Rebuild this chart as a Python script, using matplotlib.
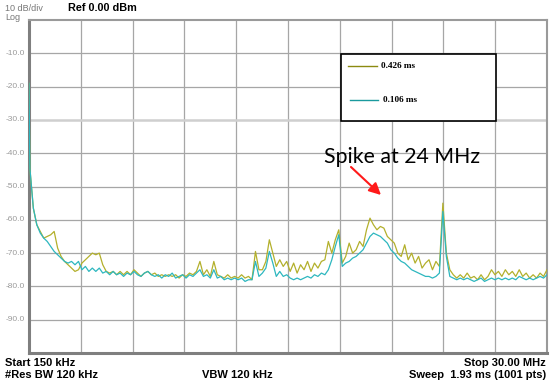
import numpy as np
import matplotlib
matplotlib.use("Agg")
import matplotlib.pyplot as plt
from matplotlib.lines import Line2D

# ---------------- data ----------------
start_mhz = 0.15
stop_mhz = 30.0
start_level = -19.0          # first sweep point (both traces)
step_mhz = 0.2               # spacing of the read-off points after the start point

trace_0426_ms = [
    -44.5, -56.5, -61.5, -63.5, -65.5, -65.0, -64.5, -63.5, -68.5, -71.0,
    -72.5, -73.5, -74.5, -75.5, -75.0, -73.0, -72.0, -71.0, -70.0, -70.5,
    -70.0, -73.5, -75.5, -76.0, -75.5, -76.5, -75.5, -76.5, -75.5, -76.5,
    -75.0, -76.0, -77.0, -76.0, -75.5, -76.5, -76.0, -77.0, -76.5, -77.0,
    -76.5, -77.0, -76.5, -77.5, -76.5, -77.0, -76.0, -76.5, -75.5, -72.5,
    -76.5, -75.0, -77.0, -72.5, -76.5, -77.0, -77.5, -76.5, -77.5, -77.0,
    -77.5, -76.5, -77.5, -77.0, -78.0, -69.5, -75.0, -75.0, -72.5, -66.0,
    -70.0, -74.0, -72.0, -74.0, -72.5, -75.5, -73.0, -76.0, -73.5, -75.0,
    -72.5, -75.5, -73.0, -74.5, -72.5, -72.0, -66.5, -70.0, -66.0, -63.0,
    -73.0, -71.0, -67.0, -70.0, -69.0, -66.5, -68.0, -63.0, -59.5, -61.5,
    -63.0, -62.0, -62.5, -65.0, -66.0, -67.0, -70.0, -71.0, -67.5, -72.0,
    -70.0, -73.0, -71.0, -74.5, -73.0, -72.0, -75.0, -72.5, -74.0, -55.0,
    -70.0, -75.0, -76.5, -77.5, -76.5, -77.5, -76.0, -77.5, -77.0, -78.0,
    -76.5, -78.0, -77.0, -75.0, -76.5, -75.5, -77.0, -75.0, -76.5, -75.5,
    -77.0, -75.0, -77.0, -76.0, -77.5, -76.5, -77.5, -76.0, -77.0, -75.0,
]

trace_0106_ms = [
    -44.5, -56.5, -61.5, -64.0, -65.5, -66.5, -68.0, -69.5, -70.5, -71.5,
    -72.5, -73.0, -72.5, -73.5, -72.5, -75.0, -74.0, -75.5, -74.5, -75.5,
    -74.5, -76.0, -75.5, -76.5, -75.5, -76.5, -76.0, -77.0, -76.0, -76.5,
    -75.5, -76.5, -77.0, -76.0, -75.5, -76.5, -77.0, -76.5, -77.5, -76.5,
    -77.0, -76.0, -77.5, -77.0, -76.5, -77.5, -76.5, -77.0, -76.0, -75.0,
    -77.0, -76.5, -77.5, -75.0, -77.5, -77.0, -78.0, -77.5, -78.0, -77.5,
    -78.0, -77.5, -78.5, -78.0, -78.0, -72.5, -77.0, -76.0, -74.5, -69.5,
    -73.0, -77.0, -75.5, -77.0, -76.5, -77.5, -78.0, -77.5, -78.0, -77.5,
    -77.0, -77.5, -76.5, -77.0, -76.0, -76.5, -75.0, -72.0, -68.0, -64.5,
    -74.0, -73.0, -72.5, -71.5, -71.0, -70.0, -69.0, -67.0, -65.0, -64.0,
    -64.5, -65.0, -66.0, -67.0, -69.0, -70.0, -71.5, -72.5, -73.0, -74.0,
    -75.0, -75.5, -76.0, -76.5, -77.0, -77.0, -77.5, -77.0, -76.0, -57.5,
    -71.0, -77.0, -77.5, -78.0, -77.5, -78.0, -77.5, -78.0, -78.5, -78.0,
    -77.5, -78.5, -78.0, -77.5, -78.0, -77.5, -78.0, -77.5, -78.0, -77.5,
    -78.0, -77.0, -77.5, -78.0, -77.5, -78.0, -77.5, -77.0, -77.5, -76.5,
]

legend_labels = ["0.426 ms", "0.106 ms"]
y_tick_labels = ["-10.0", "-20.0", "-30.0", "-40.0", "-50.0",
                 "-60.0", "-70.0", "-80.0", "-90.0"]
y_tick_values = [-10, -20, -30, -40, -50, -60, -70, -80, -90]

n = len(trace_0106_ms)
freq = np.concatenate([[start_mhz], step_mhz * np.arange(1, n + 1)])
olive_vals = np.concatenate([[start_level], trace_0426_ms])
teal_vals = np.concatenate([[start_level], trace_0106_ms])

# ---------------- figure ----------------
W, H = 553, 383
fig = plt.figure(figsize=(W / 100, H / 100), dpi=100)
fig.patch.set_facecolor("white")

L, R, T, B = 29, 547, 20, 353
ax = fig.add_axes([L / W, 1 - B / H, (R - L) / W, (B - T) / H])
ax.set_xlim(start_mhz, stop_mhz)
ax.set_ylim(-100, 0)

grid_c = "#a6a6a6"
for xv in np.linspace(start_mhz, stop_mhz, 11)[1:-1]:
    ax.axvline(xv, color=grid_c, lw=0.9, zorder=1)
for yv in y_tick_values:
    if yv == -30:
        ax.axhline(yv, color="#cfcfcf", lw=1.8, zorder=1)
    else:
        ax.axhline(yv, color=grid_c, lw=0.9, zorder=1)

olive = "#b3b02c"
teal = "#2db7bf"
ax.plot(freq, olive_vals, color=olive, lw=0.9, zorder=3)
ax.plot(freq, teal_vals, color=teal, lw=0.9, zorder=4)

ax.set_xticks([])
ax.set_yticks([])
ax.spines["left"].set_color("#7f7f7f")
ax.spines["left"].set_linewidth(2.2)
ax.spines["bottom"].set_color("#7f7f7f")
ax.spines["bottom"].set_linewidth(2.2)
ax.spines["top"].set_color("#9a9a9a")
ax.spines["top"].set_linewidth(1.5)
ax.spines["right"].set_color("#9a9a9a")
ax.spines["right"].set_linewidth(1.5)

# y labels
for v, lab in zip(y_tick_values, y_tick_labels):
    ax.text(-0.007, v, lab, transform=ax.get_yaxis_transform(), ha="right",
            va="center", fontsize=6, color="#9a9a9a", family="Liberation Sans")

def fp(x, y):
    return (x / W, 1 - y / H)

sans = "Liberation Sans"
fig.text(*fp(5, 11), "10 dB/div", fontsize=6.5, color="#777777", family=sans, va="baseline")
fig.text(*fp(5, 20), "Log", fontsize=6.5, color="#777777", family=sans, va="baseline")
fig.text(*fp(68, 11), "Ref 0.00 dBm", fontsize=7.8, weight="bold", color="black", family=sans, va="baseline")

fig.text(*fp(5, 366), "Start 150 kHz", fontsize=8, weight="bold", family=sans, va="baseline")
fig.text(*fp(5, 378), "#Res BW 120 kHz", fontsize=8, weight="bold", family=sans, va="baseline")
fig.text(*fp(202, 378), "VBW 120 kHz", fontsize=8, weight="bold", family=sans, va="baseline")
fig.text(*fp(546, 366), "Stop 30.00 MHz", fontsize=8, weight="bold", family=sans, va="baseline", ha="right")
fig.text(*fp(546, 378), "Sweep  1.93 ms (1001 pts)", fontsize=8, weight="bold", family=sans, va="baseline", ha="right")

# legend box
lx0, ly0, lx1, ly1 = 341, 54, 496, 121
fig.patches.append(plt.Rectangle(fp(lx0, ly1), (lx1 - lx0) / W, (ly1 - ly0) / H,
                                 transform=fig.transFigure, facecolor="white",
                                 edgecolor="black", lw=1.2, zorder=5))
fig.lines.append(Line2D([348 / W, 377 / W], [1 - 66 / H] * 2, color="#8c8a10", lw=1.0,
                        transform=fig.transFigure, zorder=6))
fig.lines.append(Line2D([350 / W, 378 / W], [1 - 100 / H] * 2, color="#1a9a9e", lw=1.0,
                        transform=fig.transFigure, zorder=6))
fig.text(*fp(381, 66), legend_labels[0], fontsize=6.6, weight="bold",
         family="Liberation Serif", va="center", zorder=6)
fig.text(*fp(383, 100), legend_labels[1], fontsize=6.6, weight="bold",
         family="Liberation Serif", va="center", zorder=6)

# annotation
fig.text(*fp(324, 163), "Spike at 24 MHz", fontsize=15.3, family="Lato", va="baseline", color="black")
ax.annotate("", xy=(381, H - 195), xycoords="figure pixels",
            xytext=(351, H - 167), textcoords="figure pixels",
            arrowprops=dict(arrowstyle="-|>,head_length=0.7,head_width=0.35",
                            color="#ff1a1a", lw=1.5, shrinkA=0, shrinkB=0))

fig.savefig("out.png", dpi=100, facecolor="white")
